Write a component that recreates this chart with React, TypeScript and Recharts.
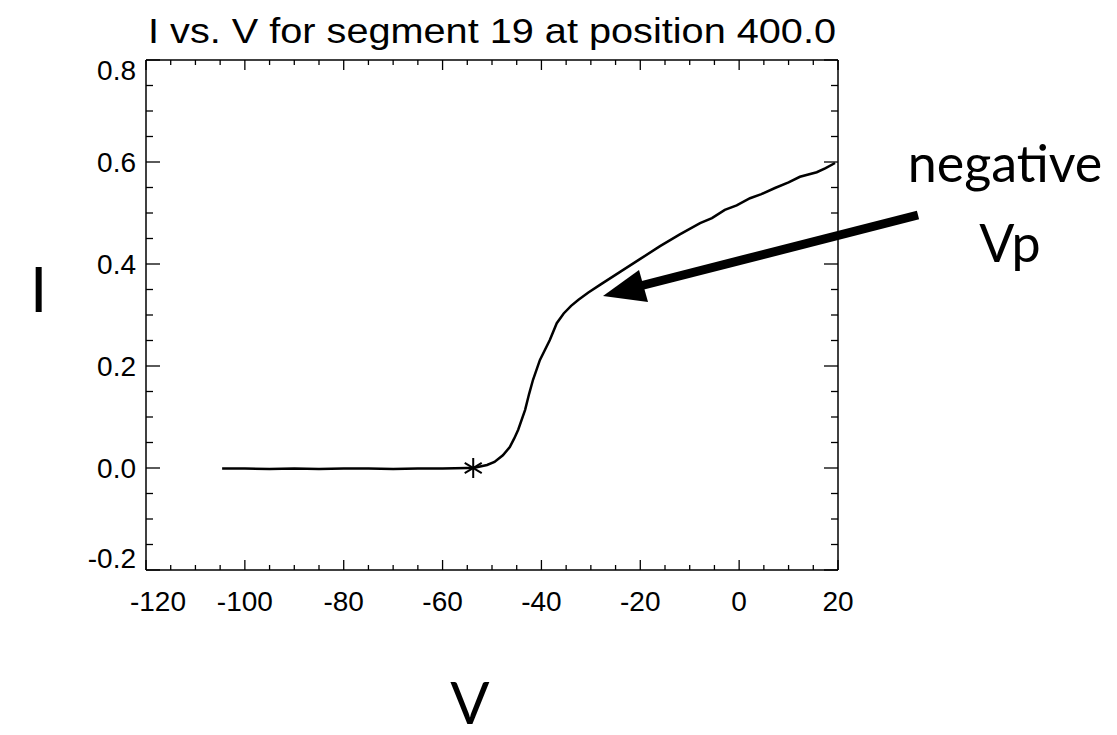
import React from 'react';
import { ComposedChart, Line, Scatter, XAxis, YAxis } from 'recharts';

const voltage = [-104.6, -100, -95, -90, -85, -80, -75, -70, -65, -60, -55, -53.8, -51.0, -49.5, -47.8, -46.4, -45.5, -44.7, -43.3, -42.5, -41.7, -40.3, -38.3, -36.9, -35.5, -34.0, -32.5, -30.5, -28, -24, -20, -16, -12, -7.9, -5.5, -2.9, -0.5, 2.2, 4.5, 7.25, 10, 12.3, 15.7, 17.5, 19.4];
const current = [-0.001, -0.001, -0.002, -0.001, -0.002, -0.001, -0.001, -0.002, -0.001, -0.001, 0, 0, 0.006, 0.012, 0.025, 0.041, 0.058, 0.075, 0.114, 0.145, 0.173, 0.212, 0.251, 0.284, 0.303, 0.318, 0.330, 0.344, 0.36, 0.385, 0.41, 0.435, 0.458, 0.48, 0.49, 0.506, 0.515, 0.529, 0.537, 0.549, 0.56, 0.571, 0.58, 0.588, 0.598];

const markerV = [-53.8];
const markerI = [0];

const xTicks = [-120, -115, -110, -105, -100, -95, -90, -85, -80, -75, -70, -65, -60, -55, -50, -45, -40, -35, -30, -25, -20, -15, -10, -5, 0, 5, 10, 15, 20];
const xMajor = [-120, -100, -80, -60, -40, -20, 0, 20];
const yTicks = [-0.2, -0.15, -0.1, -0.05, 0, 0.05, 0.1, 0.15, 0.2, 0.25, 0.3, 0.35, 0.4, 0.45, 0.5, 0.55, 0.6, 0.65, 0.7, 0.75, 0.8];
const yMajor = [-0.2, 0, 0.2, 0.4, 0.6, 0.8];

const titleText = 'I vs. V for segment 19 at position 400.0';
const annotationLine1 = 'negative';
const annotationLine2 = 'Vp';
const yLabel = 'I';
const xLabel = 'V';

const data = voltage.map((v, k) => ({ v, i: current[k] }));
const markerData = markerV.map((v, k) => ({ v, i: markerI[k] }));

const isMajor = (list: number[], val: number) => list.some((m) => Math.abs(m - val) < 1e-6);
const TICK_FONT = '"Liberation Sans", Arial, Helvetica, sans-serif';
const LABEL_FONT = "Lato, 'Open Sans', sans-serif";
const TICK_SIZE = 28;

const BottomTick = (props: any) => {
  const { x, y, payload } = props;
  const major = isMajor(xMajor, payload.value);
  const shift = Math.abs(payload.value + 120) < 1e-6 ? 12 : 0;
  return (
    <g>
      <line x1={x} x2={x} y1={y} y2={y - (major ? 10 : 5)} stroke="#000" strokeWidth={1.3} />
      {major && (
        <text x={x + shift} y={y + 41} textAnchor="middle" fontSize={TICK_SIZE} fontFamily={TICK_FONT} fill="#000">
          {String(payload.value)}
        </text>
      )}
    </g>
  );
};

const TopTick = (props: any) => {
  const { x, y, payload } = props;
  const major = isMajor(xMajor, payload.value);
  return <line x1={x} x2={x} y1={y} y2={y + (major ? 10 : 5)} stroke="#000" strokeWidth={1.3} />;
};

const LeftTick = (props: any) => {
  const { x, y, payload } = props;
  const major = isMajor(yMajor, payload.value);
  const v = payload.value;
  const shift = Math.abs(v - 0.8) < 1e-6 ? 10 : Math.abs(v + 0.2) < 1e-6 ? -12 : 0;
  return (
    <g>
      <line x1={x} x2={x + (major ? 14 : 7)} y1={y} y2={y} stroke="#000" strokeWidth={1.3} />
      {major && (
        <text x={x - 10} y={y + 10 + shift} textAnchor="end" fontSize={TICK_SIZE} fontFamily={TICK_FONT} fill="#000">
          {v.toFixed(1)}
        </text>
      )}
    </g>
  );
};

const RightTick = (props: any) => {
  const { x, y, payload } = props;
  const major = isMajor(yMajor, payload.value);
  return <line x1={x} x2={x - (major ? 14 : 7)} y1={y} y2={y} stroke="#000" strokeWidth={1.3} />;
};

const Asterisk = (props: any) => {
  const { cx, cy } = props;
  const r = 10;
  const d = r * 0.85;
  return (
    <g stroke="#000" strokeWidth={2}>
      <line x1={cx} x2={cx} y1={cy - r} y2={cy + r} />
      <line x1={cx - d} x2={cx + d} y1={cy - d * 0.6} y2={cy + d * 0.6} />
      <line x1={cx - d} x2={cx + d} y1={cy + d * 0.6} y2={cy - d * 0.6} />
    </g>
  );
};

export default function App() {
  const W = 1117;
  const H = 735;
  return (
    <div style={{ position: 'absolute', left: 0, top: 0, width: W, height: H, background: '#fff' }}>
      <ComposedChart
        width={W}
        height={H}
        data={data}
        margin={{ top: 59, right: 278, bottom: 164, left: 145 }}
      >
        <XAxis
          xAxisId="bottom"
          dataKey="v"
          type="number"
          domain={[-120, 20]}
          ticks={xTicks}
          interval={0}
          height={1}
          orientation="bottom"
          tickSize={0}
          tickMargin={0}
          tickLine={false}
          tick={<BottomTick />}
          axisLine={{ stroke: '#000', strokeWidth: 1.5 }}
          allowDataOverflow
        />
        <XAxis
          xAxisId="top"
          dataKey="v"
          type="number"
          domain={[-120, 20]}
          ticks={xTicks}
          interval={0}
          height={1}
          orientation="top"
          tickSize={0}
          tickMargin={0}
          tickLine={false}
          tick={<TopTick />}
          axisLine={{ stroke: '#000', strokeWidth: 1.5 }}
          allowDataOverflow
        />
        <YAxis
          yAxisId="left"
          type="number"
          domain={[-0.2, 0.8]}
          ticks={yTicks}
          interval={0}
          width={1}
          orientation="left"
          tickSize={0}
          tickMargin={0}
          tickLine={false}
          tick={<LeftTick />}
          axisLine={{ stroke: '#000', strokeWidth: 1.5 }}
          allowDataOverflow
        />
        <YAxis
          yAxisId="right"
          type="number"
          domain={[-0.2, 0.8]}
          ticks={yTicks}
          interval={0}
          width={1}
          orientation="right"
          tickSize={0}
          tickMargin={0}
          tickLine={false}
          tick={<RightTick />}
          axisLine={{ stroke: '#000', strokeWidth: 1.5 }}
          allowDataOverflow
        />
        <Line
          xAxisId="bottom"
          yAxisId="left"
          dataKey="i"
          type="linear"
          stroke="#000"
          strokeWidth={2.5}
          dot={false}
          activeDot={false}
          isAnimationActive={false}
        />
        <Scatter
          xAxisId="top"
          yAxisId="right"
          data={markerData}
          dataKey="i"
          shape={<Asterisk />}
          isAnimationActive={false}
        />
      </ComposedChart>
      <svg
        width={W}
        height={H}
        style={{ position: 'absolute', left: 0, top: 0, pointerEvents: 'none' }}
      >
        <text
          x={492}
          y={43}
          textAnchor="middle"
          fontSize={35}
          fontFamily={TICK_FONT}
          textLength={688}
          lengthAdjust="spacingAndGlyphs"
          fill="#000"
        >
          {titleText}
        </text>
        <text x={30} y={312} fontSize={62} fontFamily={LABEL_FONT} fill="#000">
          {yLabel}
        </text>
        <text x={470} y={724} textAnchor="middle" fontSize={58} fontFamily={LABEL_FONT} fill="#000">
          {xLabel}
        </text>
        <text x={1005} y={182} textAnchor="middle" fontSize={52} fontFamily={LABEL_FONT} fill="#000">
          {annotationLine1}
        </text>
        <text x={1010} y={262} textAnchor="middle" fontSize={52} fontFamily={LABEL_FONT} fill="#000">
          {annotationLine2}
        </text>
        <line x1={918} y1={215} x2={640} y2={286} stroke="#000" strokeWidth={9} />
        <polygon points="603,296 648,302 639,270" fill="#000" />
      </svg>
    </div>
  );
}
